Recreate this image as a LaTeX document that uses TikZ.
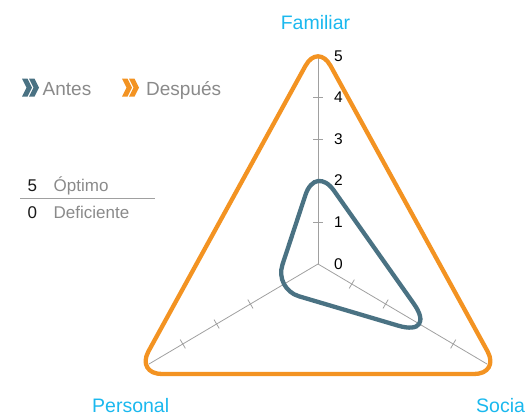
\documentclass[tikz,border=0pt]{standalone}
\usepackage{fontspec}
\setmainfont{Liberation Sans}
\usetikzlibrary{calc}
\definecolor{antes}{HTML}{4A7283}
\definecolor{despues}{HTML}{F39322}
\definecolor{axlab}{HTML}{1AB8EE}
\definecolor{gridc}{HTML}{A0A0A0}
\definecolor{legtxt}{HTML}{8A8A8A}
\begin{document}
\begin{tikzpicture}[x=1pt,y=-1pt,
  axisline/.style={draw=gridc,line width=0.8pt},
  tickmark/.style={draw=gridc,line width=0.8pt},
  series/.style={line width=4.3pt,line join=round},
  num/.style={font=\fontsize{15.5}{16}\selectfont,text=black,anchor=base west,inner sep=0pt},
  axname/.style={font=\fontsize{19.5}{20}\selectfont,text=axlab,inner sep=0pt},
  legtext/.style={font=\fontsize{19}{20}\selectfont,text=legtxt,anchor=base west,inner sep=0pt},
  keynum/.style={font=\fontsize{17}{18}\selectfont,text=black!90,anchor=base west,inner sep=0pt},
  keytext/.style={font=\fontsize{17}{18}\selectfont,text=legtxt,anchor=base west,inner sep=0pt}
]
\clip (0,0) rectangle (525,416);
\coordinate (O) at (318,264);
\coordinate (F) at (318,56);
\coordinate (S) at (487,364);
\coordinate (P) at (149,364);
% axes
\draw[axisline] (O) -- (F);
\draw[axisline] (O) -- (S);
\draw[axisline] (O) -- (P);
\foreach \k in {1,...,4} {
  \draw[tickmark] ($(O)!\k/5!(F)$) ++(-5,0) -- ++(10,0);
  \draw[tickmark] ($(O)!\k/5!(S)$) ++(-2.6,4.4) -- ++(5.2,-8.8);
  \draw[tickmark] ($(O)!\k/5!(P)$) ++(2.6,4.4) -- ++(-5.2,-8.8);
}
% ---- Despues series: rounded triangle
\coordinate (DF) at (318,43);
\coordinate (DS) at (500,374);
\coordinate (DP) at (136,374);
\draw[series,despues]
  ($(DF)!26pt!(DS)$) -- ($(DS)!26pt!(DF)$)
  .. controls ($(DS)!11.6pt!(DF)$) and ($(DS)!11.6pt!(DP)$) .. ($(DS)!26pt!(DP)$)
  -- ($(DP)!26pt!(DS)$)
  .. controls ($(DP)!11.6pt!(DS)$) and ($(DP)!11.6pt!(DF)$) .. ($(DP)!26pt!(DF)$)
  -- ($(DF)!26pt!(DP)$)
  .. controls ($(DF)!11.6pt!(DP)$) and ($(DF)!11.6pt!(DS)$) .. ($(DF)!26pt!(DS)$)
  -- cycle;
% ---- Antes series: rounded triangle
\coordinate (AF) at (315.5,164.5);
\coordinate (AS) at (437.5,337.3);
\coordinate (AP) at (274.4,289);
\draw[series,antes]
  ($(AF)!32pt!(AS)$) -- ($(AS)!41pt!(AF)$)
  .. controls ($(AS)!18.4pt!(AF)$) and ($(AS)!18.4pt!(AP)$) .. ($(AS)!41pt!(AP)$)
  -- ($(AP)!25.7pt!(AS)$)
  .. controls ($(AP)!11.5pt!(AS)$) and ($(AP)!11.5pt!(AF)$) .. ($(AP)!25.7pt!(AF)$)
  -- ($(AF)!32pt!(AP)$)
  .. controls ($(AF)!14.3pt!(AP)$) and ($(AF)!14.3pt!(AS)$) .. ($(AF)!32pt!(AS)$)
  -- cycle;
% scale numbers
\foreach \k in {0,...,5} {
  \node[num] (n\k) at (334,{264-41.6*\k+5}) {\k};
}
% axis names
\node[axname,anchor=base] (lf) at (315.5,29) {Familiar};
\node[axname,anchor=base] (lp) at (130.7,412) {Personal};
\node[axname,anchor=base west] (ls) at (476,412) {Social};
% legend
\fill[antes] (22,78.5) -- (27.5,78.5) -- (32,87.5) -- (27.5,96.5) -- (22,96.5) -- (26.5,87.5) -- cycle;
\fill[antes] (29,78.5) -- (34.5,78.5) -- (39,87.5) -- (34.5,96.5) -- (29,96.5) -- (33.5,87.5) -- cycle;
\node[legtext] (la) at (42.5,95) {Antes};
\fill[despues] (122,78.5) -- (127.5,78.5) -- (132,87.5) -- (127.5,96.5) -- (122,96.5) -- (126.5,87.5) -- cycle;
\fill[despues] (129,78.5) -- (134.5,78.5) -- (139,87.5) -- (134.5,96.5) -- (129,96.5) -- (133.5,87.5) -- cycle;
\node[legtext] (ld) at (146,95) {Después};
% key
\node[keynum] (k5) at (27.5,191.7) {5};
\node[keytext] (k5t) at (53.5,191.7) {Óptimo};
\coordinate (kl1) at (20,198.5);
\coordinate (kl2) at (155,198.5);
\draw[draw=gridc,line width=0.9pt] (kl1) -- (kl2);
\node[keynum] (k0) at (27.5,218.3) {0};
\node[keytext] (k0t) at (53.5,218.3) {Deficiente};
\end{tikzpicture}
\end{document}
